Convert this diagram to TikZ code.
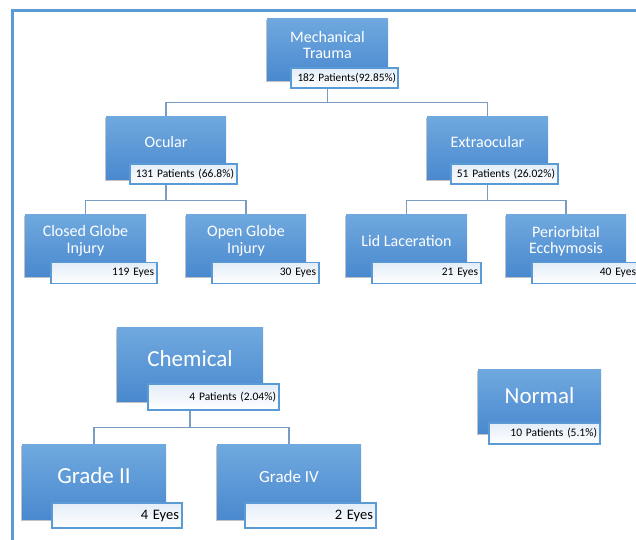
\documentclass[tikz,border=0pt]{standalone}
\usepackage{fontspec}
\setmainfont{Carlito}
\usetikzlibrary{shadows,backgrounds}
\definecolor{frameblue}{HTML}{5B9BD5}
\definecolor{boxtop}{HTML}{70A9DF}
\definecolor{boxbot}{HTML}{4A89CF}
\definecolor{labtop}{HTML}{E3EDF8}
\definecolor{linec}{HTML}{7A9CC4}
\newcommand{\fsz}[1]{\fontsize{#1}{#1}\selectfont}
\begin{document}
\begin{tikzpicture}[x=1pt,y=-1pt,
  bluebox/.style args={#1x#2}{draw=none, top color=boxtop, bottom color=boxbot,
    minimum width=#1pt, minimum height=#2pt, inner sep=0pt,
    drop shadow={shadow xshift=-1.5pt, shadow yshift=-1.5pt, opacity=0.35, fill=black!70}},
  labbox/.style n args={3}{draw=frameblue, line width=1.1pt, top color=labtop, bottom color=white,
    minimum width=#1pt, minimum height=#2pt, text width=#3pt, inner xsep=3pt, inner ysep=0pt,
    align=right, text=black},
  txt/.style={text=white, align=center, inner sep=0pt},
  conn/.style={draw=linec, line width=1.1pt},
  frame/.style={draw=frameblue, line width=3pt}]
\clip (0,0) rectangle (636,539);
\draw[frame] (12.5,545) -- (12.5,10.5) -- (640,10.5);

% Mechanical trauma branch
\node[bluebox=121x62] (mech) at (327.5,49) {};
\node[txt, font=\fontsize{16}{16.5}\selectfont] (mechT) at (327.5,45) {Mechanical\\Trauma};
\node[labbox={107}{20}{103}, inner xsep=2pt, font=\fsz{11.3}] (mechL) at (344.5,78) {\mbox{182 Patients(92.85\%)}};

\node[bluebox=120x63] (ocu) at (166,147.5) {};
\node[txt, font=\fsz{16}] (ocuT) at (166,141.5) {Ocular};
\node[labbox={107}{20}{101}, font=\fsz{11.5}] (ocuL) at (183.5,174) {\mbox{131 Patients (66.8\%)}};

\node[bluebox=121x63] (extra) at (487.5,147.5) {};
\node[txt, font=\fsz{16}] (extraT) at (487.5,141.5) {Extraocular};
\node[labbox={107}{20}{101}, font=\fsz{11.5}] (extraL) at (504.5,174) {\mbox{51 Patients (26.02\%)}};

\node[bluebox=121x62] (closed) at (85.5,245) {};
\node[txt, font=\fontsize{16}{16.5}\selectfont] (closedT) at (85.5,241) {Closed Globe\\Injury};
\node[labbox={106}{21}{100}, font=\fsz{11.5}] (closedL) at (104,273) {119 Eyes};

\node[bluebox=120x62] (open) at (246,245) {};
\node[txt, font=\fontsize{16}{16.5}\selectfont] (openT) at (246,241) {Open Globe\\Injury};
\node[labbox={107}{21}{101}, font=\fsz{11.5}] (openL) at (265.5,273) {30 Eyes};

\node[bluebox=121x62] (lid) at (406.5,245) {};
\node[txt, font=\fsz{16}] (lidT) at (406.5,240.5) {Lid Laceration};
\node[labbox={109}{21}{103}, font=\fsz{11.5}] (lidL) at (426.5,273) {21 Eyes};

\node[bluebox=120x62] (peri) at (566,245) {};
\node[txt, font=\fontsize{16}{16.5}\selectfont] (periT) at (566,241) {Periorbital\\Ecchymosis};
\node[labbox={107}{21}{101}, font=\fsz{11.5}] (periL) at (585.5,273) {40 Eyes};

% Chemical branch
\node[bluebox=146x74] (chem) at (190,364) {};
\node[txt, font=\fsz{23}] (chemT) at (190,358.3) {Chemical};
\node[labbox={131}{26}{125}, font=\fsz{11.5}] (chemL) at (213.5,397) {4 Patients (2.04\%)};

\node[bluebox=144x75] (g2) at (94,481.5) {};
\node[txt, font=\fsz{23}] (g2T) at (94,475.6) {Grade II};
\node[labbox={130}{25}{124}, font=\fsz{14.5}] (g2L) at (117,515.5) {4 Eyes};

\node[bluebox=144x75] (g4) at (289,481.5) {};
\node[txt, font=\fsz{17}] (g4T) at (289,477) {Grade IV};
\node[labbox={131}{25}{125}, font=\fsz{14.5}] (g4L) at (310.5,515.5) {2 Eyes};

% Normal
\node[bluebox=123x64] (norm) at (539.5,401) {};
\node[txt, font=\fsz{23}] (normT) at (539.5,396) {Normal};
\node[labbox={111}{21}{105}, font=\fsz{11.5}] (normL) at (544.5,433.5) {10 Patients (5.1\%)};

\begin{scope}[on background layer]
\draw[conn] (mech.south) -- ++(0,22) -| (ocu.north);
\draw[conn] (mech.south) ++(0,22) -| (extra.north);
\draw[conn] (ocu.south) -- ++(0,21) -| (closed.north);
\draw[conn] (ocu.south) ++(0,21) -| (open.north);
\draw[conn] (extra.south) -- ++(0,21) -| (lid.north);
\draw[conn] (extra.south) ++(0,21) -| (peri.north);
\draw[conn] (chem.south) -- ++(0,26) -| (g2.north);
\draw[conn] (chem.south) ++(0,26) -| (g4.north);
\end{scope}
\end{tikzpicture}
\end{document}
